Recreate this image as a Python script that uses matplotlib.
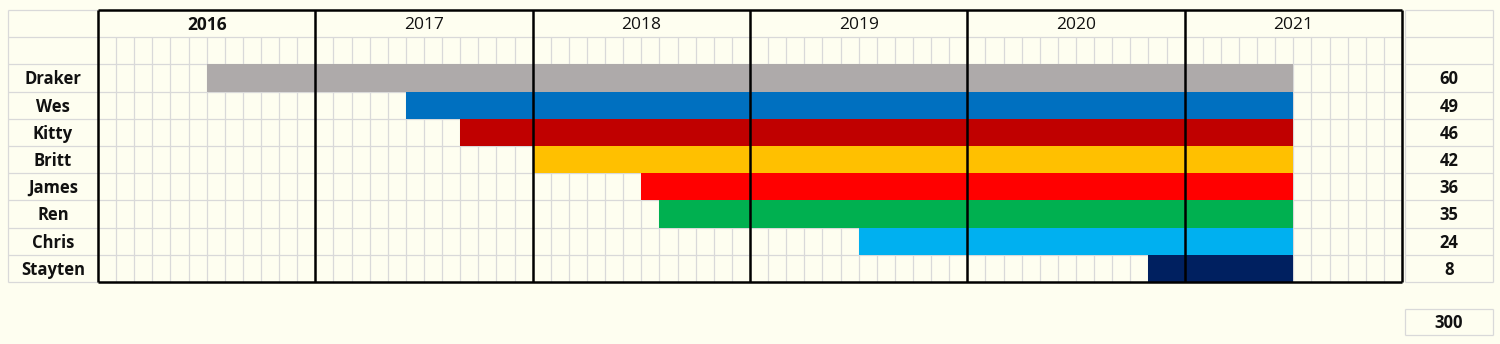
import numpy as np
import matplotlib.pyplot as plt

plt.rcParams['font.family'] = ['Open Sans', 'DejaVu Sans']

# ----- data -----
years = ['2016', '2017', '2018', '2019', '2020', '2021']
names = ['Draker', 'Wes', 'Kitty', 'Britt', 'James', 'Ren', 'Chris', 'Stayten']
start_month = [6, 17, 20, 24, 30, 31, 42, 58]   # month index from Jan 2016
end_month = [66, 66, 66, 66, 66, 66, 66, 66]
months = [60, 49, 46, 42, 36, 35, 24, 8]
total = 300
colors = ['#AEAAAA', '#0070C0', '#C00000', '#FFC000', '#FF0000', '#00B050', '#00B0F0', '#002060']

bg = '#FEFEF0'
grid_c = '#D9D9D9'
n_months = 12 * len(years)
n_rows = 2 + len(names)   # header row + blank row + people

fig = plt.figure(figsize=(15, 3.44), dpi=100)
fig.patch.set_facecolor(bg)
ax = fig.add_axes([0, 0, 1, 1])
ax.set_facecolor(bg)
px = n_months / 1304.0   # months per pixel
ax.set_xlim(-98 * px, n_months + 98 * px)
ax.set_ylim((344 - 10) / 27.2, -10 / 27.2)
ax.axis('off')

left_x = -90 * px
right_x = n_months + 91 * px
right_l = n_months + 3 * px

# light grid
ax.vlines(np.arange(1, n_months), 1, n_rows, color=grid_c, lw=0.9, zorder=1)
ax.hlines(np.arange(1, n_rows), 0, n_months, color=grid_c, lw=0.9, zorder=1)
# label columns
ax.hlines(np.arange(0, n_rows + 1), left_x, 0, color=grid_c, lw=0.9, zorder=1)
ax.vlines(left_x, 0, n_rows, color=grid_c, lw=0.9, zorder=1)
ax.hlines(np.arange(0, n_rows + 1), right_l, right_x, color=grid_c, lw=0.9, zorder=1)
ax.vlines([right_l, right_x], 0, n_rows, color=grid_c, lw=0.9, zorder=1)
# total box
ax.hlines([n_rows + 1, n_rows + 1.95], right_l, right_x, color=grid_c, lw=0.9, zorder=1)
ax.vlines([right_l, right_x], n_rows + 1, n_rows + 1.95, color=grid_c, lw=0.9, zorder=1)

# bars
rows = np.arange(len(names)) + 2
ax.barh(rows, np.array(end_month) - np.array(start_month), left=start_month,
        height=1, align='edge', color=colors, zorder=2)

# year borders
ax.vlines(np.arange(0, n_months + 1, 12), 0, n_rows, color='black', lw=1.8, zorder=3)
ax.hlines([0, n_rows], 0, n_months, color='black', lw=1.8, zorder=3)

for i, y in enumerate(years):
    ax.text(12 * i + 6, 0.55, y, ha='center', va='center', fontsize=12.5,
            fontweight='bold' if i == 0 else 'normal', color='#111111')

for r, name, m in zip(rows, names, months):
    ax.text(left_x / 2, r + 0.55, name, ha='center', va='center', fontsize=12,
            fontweight='bold', color='#111111')
    ax.text((right_l + right_x) / 2, r + 0.55, str(m), ha='center', va='center',
            fontsize=12, fontweight='bold', color='#111111')

ax.text((right_l + right_x) / 2, n_rows + 1.5, str(total), ha='center', va='center',
        fontsize=12, fontweight='bold', color='#111111')

fig.savefig('out.png', dpi=100, facecolor=bg)
